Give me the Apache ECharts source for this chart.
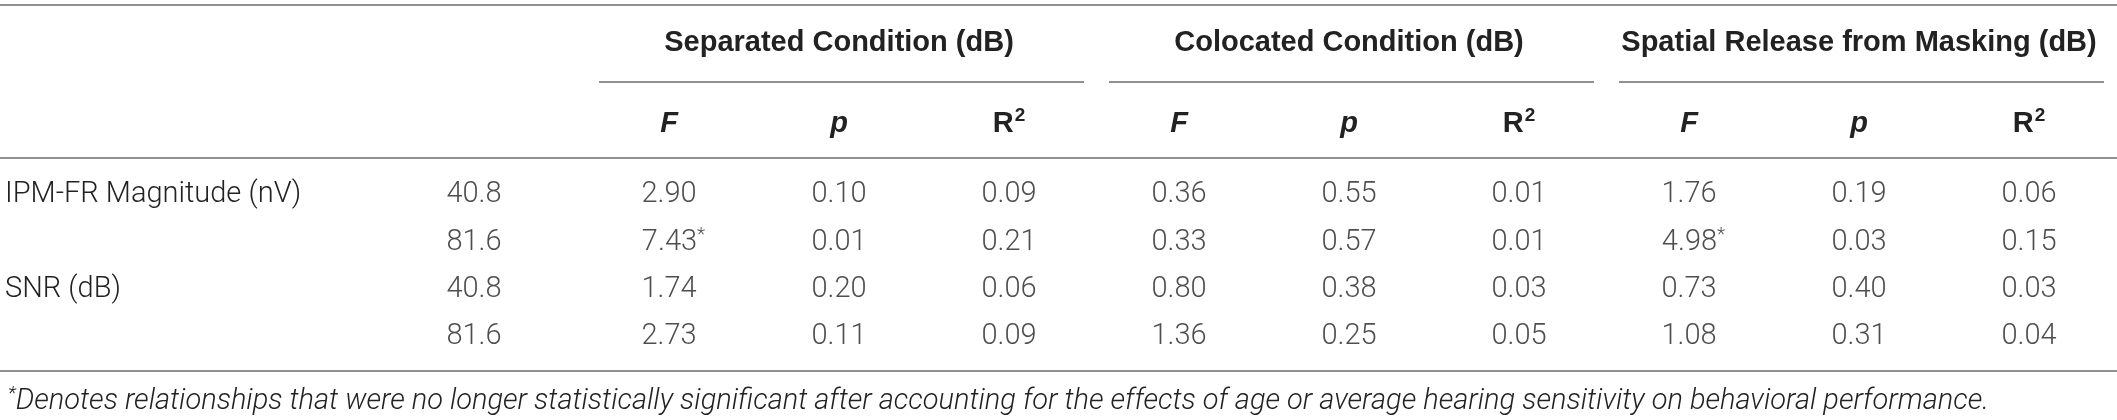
<!DOCTYPE html>
<html lang="en">
<head>
    <meta charset="UTF-8" />
    <title>Table</title>
    <style>html, body { margin: 0; padding: 0; background: #fff; }</style>
</head>
<body>
<div id="main" style="width: 2117px; height: 420px;"></div>
<script src="https://cdn.jsdelivr.net/npm/echarts@6/dist/echarts.min.js"></script>
<script type="text/javascript">
    // table content
    var rowLabels = ['IPM-FR Magnitude (nV)', '', 'SNR (dB)', ''];
    var levels = ['40.8', '81.6', '40.8', '81.6'];
    var groups = ['Separated Condition (dB)', 'Colocated Condition (dB)', 'Spatial Release from Masking (dB)'];
    var statNames = ['F', 'p', 'R2', 'F', 'p', 'R2', 'F', 'p', 'R2'];

    var separatedF  = ['2.90', '7.43*', '1.74', '2.73'];
    var separatedP  = ['0.10', '0.01', '0.20', '0.11'];
    var separatedR2 = ['0.09', '0.21', '0.06', '0.09'];
    var colocatedF  = ['0.36', '0.33', '0.80', '1.36'];
    var colocatedP  = ['0.55', '0.57', '0.38', '0.25'];
    var colocatedR2 = ['0.01', '0.01', '0.03', '0.05'];
    var srmF  = ['1.76', '4.98*', '0.73', '1.08'];
    var srmP  = ['0.19', '0.03', '0.40', '0.31'];
    var srmR2 = ['0.06', '0.15', '0.03', '0.04'];

    var footnote = 'Denotes relationships that were no longer statistically significant after accounting for the effects of age or average hearing sensitivity on behavioral performance.';

    // layout
    var W = 2117;
    var bodyTop = 171.5, rowH = 47.3;
    var statLeft = 584, colW = 170;
    var levelLeft = 389;
    var ruleColor = '#6d6d6d';
    var textColor = '#222';
    var lightFont = 'Roboto';
    var boldFont = 'Liberation Sans';

    var statColumns = [separatedF, separatedP, separatedR2, colocatedF, colocatedP, colocatedR2, srmF, srmP, srmR2];
    var cells = [];
    statColumns.forEach(function (col, c) {
        col.forEach(function (v, r) { cells.push([c, r, v]); });
    });
    var levelCells = levels.map(function (v, r) { return [0, r, v]; });

    var bodyRich = {
        n: { fontSize: 29, fontFamily: lightFont, fontWeight: 300, color: textColor, lineHeight: 34 },
        star: { fontSize: 19, fontFamily: lightFont, fontWeight: 300, color: textColor, lineHeight: 34, verticalAlign: 'top', padding: [0, 0, 12, 0] },
        pad: { width: 9, lineHeight: 34 }
    };
    function cellText(s) {
        if (s.slice(-1) === '*') return '{pad|}{n|' + s.slice(0, -1) + '}{star|*}';
        return '{n|' + s + '}';
    }
    function headText(s) {
        if (s === 'R2') return '{b|R}{sup|2}';
        return '{i|' + s + '}';
    }

    var bodyHeight = rowH * rowLabels.length;
    var myChart = echarts.init(document.getElementById('main'));

    var graphics = [];
    [5, 158, 371].forEach(function (y) {
        graphics.push({ type: 'line', shape: { x1: 0, y1: y, x2: W, y2: y }, style: { stroke: ruleColor, lineWidth: 1.5 } });
    });
    groups.forEach(function (g, i) {
        var x1 = statLeft + i * colW * 3 + 15, x2 = statLeft + (i + 1) * colW * 3 - 10;
        graphics.push({ type: 'line', shape: { x1: x1, y1: 82, x2: x2, y2: 82 }, style: { stroke: ruleColor, lineWidth: 1.5 } });
    });

    var option = {
        animation: false,
        backgroundColor: '#fff',
        title: {
            text: '{star|*}{t|' + footnote + '}',
            left: 3,
            top: 380,
            textStyle: {
                rich: {
                    t: { fontSize: 29, fontFamily: lightFont, fontWeight: 300, fontStyle: 'italic', color: textColor, lineHeight: 34 },
                    star: { fontSize: 19, fontFamily: lightFont, fontWeight: 300, fontStyle: 'italic', color: textColor, lineHeight: 34, verticalAlign: 'top', padding: [0, 0, 12, 0] }
                }
            }
        },
        grid: [
            { left: statLeft, width: colW * 9, top: bodyTop, height: bodyHeight },
            { left: levelLeft, width: colW, top: bodyTop, height: bodyHeight }
        ],
        xAxis: [
            {
                gridIndex: 0, type: 'category', position: 'top', data: statNames,
                axisLine: { show: false }, axisTick: { show: false },
                axisLabel: {
                    margin: 48, verticalAlign: 'middle', interval: 0,
                    formatter: headText,
                    rich: {
                        i: { fontSize: 29, fontFamily: boldFont, fontWeight: 'bold', fontStyle: 'italic', color: textColor, lineHeight: 34 },
                        b: { fontSize: 29, fontFamily: boldFont, fontWeight: 'bold', color: textColor, lineHeight: 34 },
                        sup: { fontSize: 19, fontFamily: boldFont, fontWeight: 'bold', color: textColor, lineHeight: 34, verticalAlign: 'top', padding: [0, 0, 12, 1] }
                    }
                }
            },
            {
                gridIndex: 0, type: 'category', position: 'top', data: groups,
                axisLine: { show: false }, axisTick: { show: false },
                axisLabel: {
                    margin: 129, verticalAlign: 'middle', interval: 0,
                    fontSize: 29, fontFamily: boldFont, fontWeight: 'bold', color: textColor
                }
            },
            {
                gridIndex: 1, type: 'category', data: ['level'],
                axisLine: { show: false }, axisTick: { show: false }, axisLabel: { show: false }
            }
        ],
        yAxis: [
            {
                gridIndex: 0, type: 'category', inverse: true, data: rowLabels,
                axisLine: { show: false }, axisTick: { show: false }, axisLabel: { show: false }
            },
            {
                gridIndex: 1, type: 'category', inverse: true, data: rowLabels,
                axisLine: { show: false }, axisTick: { show: false },
                axisLabel: {
                    align: 'left', margin: levelLeft - 5, interval: 0,
                    fontSize: 29, fontFamily: lightFont, fontWeight: 300, color: textColor
                }
            }
        ],
        series: [
            {
                type: 'scatter', xAxisIndex: 0, yAxisIndex: 0, data: cells,
                symbolSize: 0, silent: true,
                label: { show: true, position: 'inside', formatter: function (p) { return cellText(p.value[2]); }, rich: bodyRich }
            },
            {
                type: 'scatter', xAxisIndex: 2, yAxisIndex: 1, data: levelCells,
                symbolSize: 0, silent: true,
                label: { show: true, position: 'inside', formatter: function (p) { return cellText(p.value[2]); }, rich: bodyRich }
            }
        ],
        graphic: graphics
    };

    myChart.setOption(option);
</script>
</body>
</html>
